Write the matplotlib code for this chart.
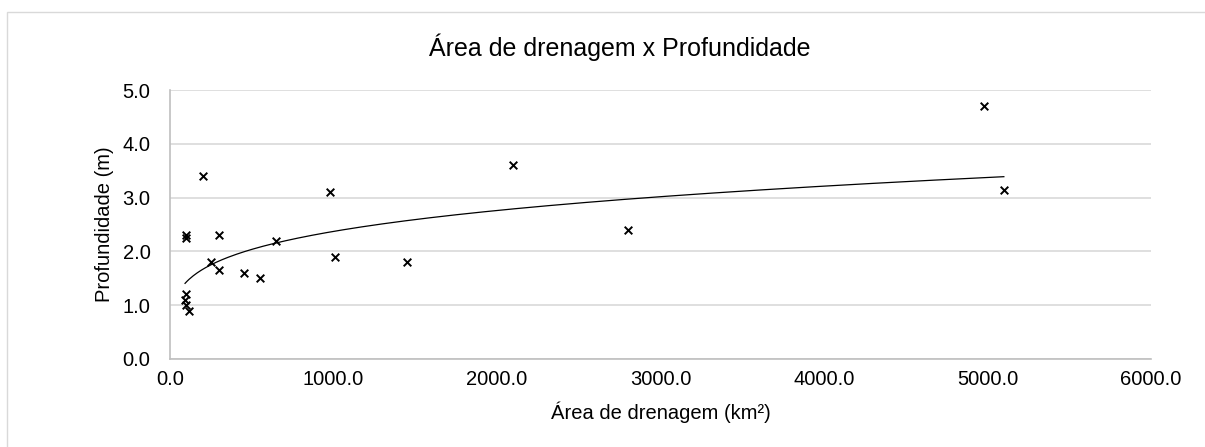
import numpy as np
import matplotlib
matplotlib.use('Agg')
import matplotlib.pyplot as plt
from matplotlib.patches import Rectangle

plt.rcParams['font.family'] = ['Liberation Sans', 'DejaVu Sans']

# data
area = [92, 95, 98, 118, 100, 100, 200, 250, 300, 300, 450, 550, 650,
        980, 1010, 1450, 2100, 2800, 4980, 5100]
depth = [1.1, 1.0, 1.2, 0.9, 2.3, 2.25, 3.4, 1.8, 2.3, 1.65, 1.6, 1.5, 2.2,
         3.1, 1.9, 1.8, 3.6, 2.4, 4.7, 3.15]
xticks = [0, 1000, 2000, 3000, 4000, 5000, 6000]
yticks = [0, 1, 2, 3, 4, 5]

title = 'Área de drenagem x Profundidade'
xlabel = 'Área de drenagem (km²)'
ylabel = 'Profundidade (m)'

fig = plt.figure(figsize=(12.05, 4.47), dpi=100)
ax = fig.add_axes([170/1205, 1-359/447, (1151-170)/1205, (359-90)/447])

# chart area border
fig.patches.append(Rectangle((7/1205, -0.05), 1.05, 1-12/447+0.05,
                             transform=fig.transFigure, fill=False,
                             edgecolor='#d9d9d9', linewidth=1))

# power trendline (least squares in log-log)
xa = np.array(area, dtype=float)
ya = np.array(depth, dtype=float)
b, lna = np.polyfit(np.log(xa), np.log(ya), 1)
xs = np.linspace(xa.min(), xa.max(), 400)
ax.plot(xs, np.exp(lna) * xs**b, color='black', linewidth=0.9, zorder=2)

ax.scatter(area, depth, marker='x', color='black', s=30, linewidths=1.4, zorder=3)

ax.set_xlim(0, 6000)
ax.set_ylim(0, 5)
ax.set_xticks(xticks)
ax.set_yticks(yticks)
ax.xaxis.set_major_formatter(matplotlib.ticker.FormatStrFormatter('%.1f'))
ax.yaxis.set_major_formatter(matplotlib.ticker.FormatStrFormatter('%.1f'))
ax.tick_params(length=0, labelsize=14.5, colors='black', pad=14)
ax.tick_params(axis='x', pad=8)
ax.grid(axis='y', color='#d9d9d9', linewidth=1.2)
ax.set_axisbelow(True)
for s in ['top', 'right']:
    ax.spines[s].set_visible(False)
for s in ['left', 'bottom']:
    ax.spines[s].set_color('#bfbfbf')
    ax.spines[s].set_linewidth(1.2)

ax.set_xlabel(xlabel, fontsize=14.5, labelpad=9)
ax.set_ylabel(ylabel, fontsize=14.5, labelpad=6)
fig.text(0.5147, 1-47/447, title, fontsize=18, ha='center', va='center')

fig.savefig('out.png', dpi=100)
